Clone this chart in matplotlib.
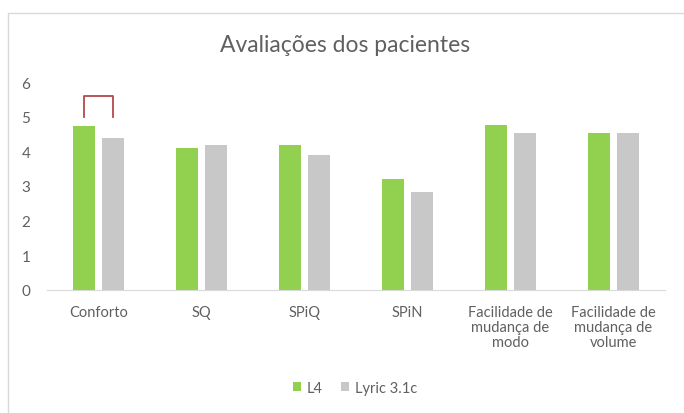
import matplotlib.pyplot as plt
import numpy as np
from matplotlib.patches import Rectangle

plt.rcParams['font.family'] = ['Lato', 'DejaVu Sans']

categories = ['Conforto', 'SQ', 'SPiQ', 'SPiN',
              'Facilidade de\nmudança de\nmodo', 'Facilidade de\nmudança de\nvolume']
l4 = [4.74, 4.11, 4.18, 3.20, 4.76, 4.54]
lyric = [4.39, 4.18, 3.90, 2.82, 4.54, 4.54]

green = '#92D050'
gray = '#C8C8C8'
text_col = '#606060'

fig = plt.figure(figsize=(6.84, 4.14), dpi=100)
ax = fig.add_axes([47 / 684, 1 - 291 / 414, 618 / 684, 208 / 414])

x = np.arange(len(categories))
w = 0.22
gap = 0.032
ax.bar(x - w / 2 - gap, l4, w, color=green, label='L4')
ax.bar(x + w / 2 + gap, lyric, w, color=gray, label='Lyric 3.1c')

# bracket over Conforto
bx0 = x[0] - w / 2 - gap
bx1 = x[0] + w / 2 + gap
ax.plot([bx0, bx0, bx1, bx1], [4.98, 5.59, 5.59, 4.98], color='#B5484A', lw=1.3)

ax.set_xlim(-0.5, len(categories) - 0.5)
ax.set_ylim(0, 6)
ax.set_yticks(range(7))
ax.set_xticks(x)
ax.set_xticklabels(categories, fontsize=10.5, color=text_col, linespacing=1.1, va='top')
ax.tick_params(axis='y', labelsize=11, colors=text_col, length=0, pad=12)
ax.tick_params(axis='x', length=0, pad=11)
for s in ['top', 'right', 'left']:
    ax.spines[s].set_visible(False)
ax.spines['bottom'].set_color('#D9D9D9')

fig.text(345 / 684, 1 - 45 / 414, 'Avaliações dos pacientes', ha='center', va='center',
         fontsize=16.5, color=text_col)

fig.legend(loc='center', bbox_to_anchor=(355 / 684, 1 - 389 / 414), ncol=2, frameon=False,
           fontsize=10.5, handlelength=0.6, handleheight=0.6, handletextpad=0.4,
           columnspacing=1.2, labelcolor=text_col)

# chart area border
fig.patches.append(Rectangle((8 / 684, -0.01), 1, 1 - 14 / 414 + 0.01,
                             transform=fig.transFigure, fill=False,
                             edgecolor='#D9D9D9', lw=1))

fig.savefig('out.png', dpi=100)
